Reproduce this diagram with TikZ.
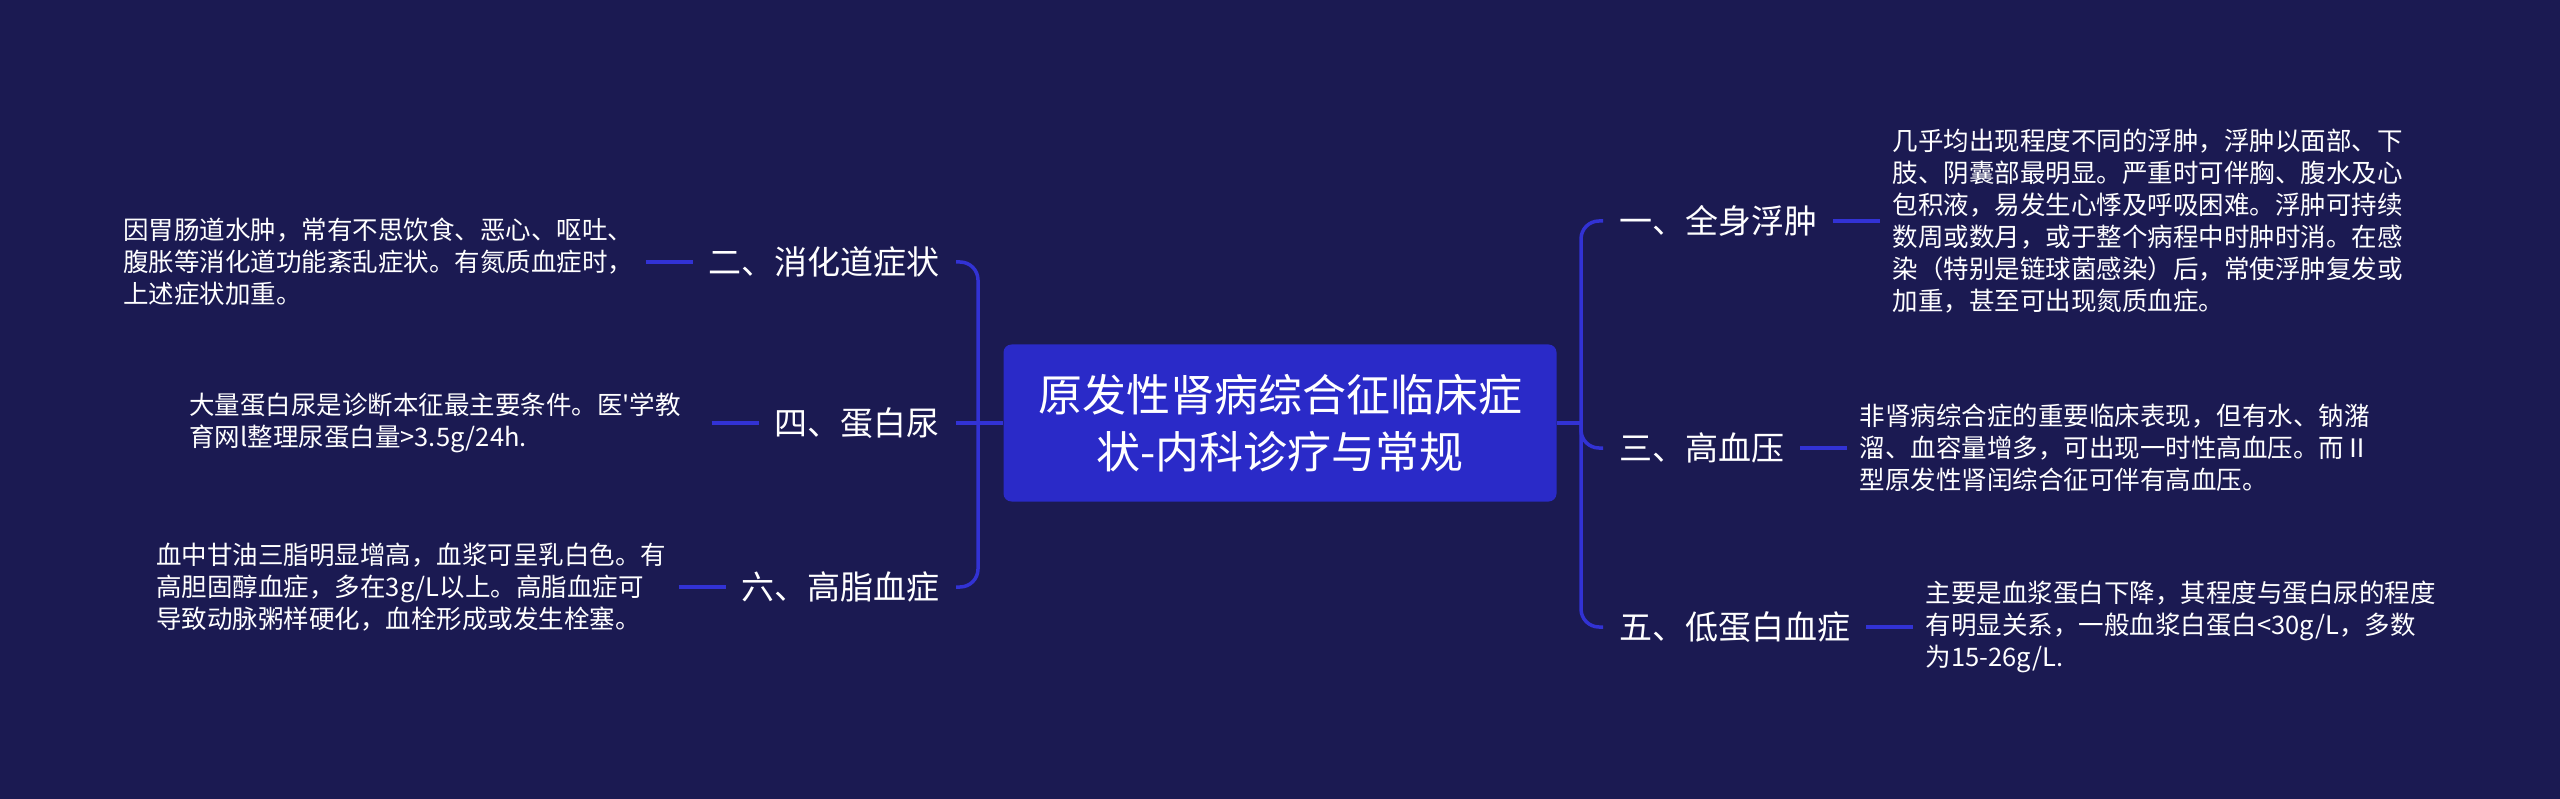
\documentclass[tikz,border=0pt]{standalone}
\usepackage{fontspec}
\newfontfamily\cjk{Noto Sans CJK SC}
\usetikzlibrary{positioning}

\definecolor{bgnavy}{RGB}{27,26,82}
\definecolor{hubblue}{RGB}{42,42,200}
\definecolor{linkblue}{RGB}{50,50,212}

\begin{document}
\begin{tikzpicture}[
  x=1pt, y=-1pt,
  hub/.style={fill=hubblue, rounded corners=8pt, minimum width=553pt, minimum height=157pt,
              align=center, text=white, font={\cjk\fontsize{44pt}{57pt}\selectfont}},
  topic/.style={text=white, inner xsep=16pt, inner ysep=4pt,
                font={\cjk\fontsize{33pt}{40pt}\selectfont}},
  note/.style={text=white, text width=510pt, align=left, inner xsep=12pt,
               font={\cjk\fontsize{25.5pt}{32pt}\selectfont}},
  link/.style={draw=linkblue, line width=3.5pt, rounded corners=18pt}
]
  \useasboundingbox (0,0) rectangle (2560,799);
  \fill[bgnavy] (0,0) rectangle (2560,799);

  \node[hub] (hub) at (1280,423) {原发性肾病综合征临床症\\状-内科诊疗与常规};

  % right side
  \node[topic, anchor=west] (l1) at (1603,221) {一、全身浮肿};
  \node[topic, anchor=west] (l3) at (1603,448) {三、高血压};
  \node[topic, anchor=west] (l5) at (1603,627) {五、低蛋白血症};

  \node[note, right=47pt of l1] (d1) {几乎均出现程度不同的浮肿，浮肿以面部、下\\
    肢、阴囊部最明显。严重时可伴胸、腹水及心\\
    包积液，易发生心悸及呼吸困难。浮肿可持续\\
    数周或数月，或于整个病程中时肿时消。在感\\
    染（特别是链球菌感染）后，常使浮肿复发或\\
    加重，甚至可出现氮质血症。};
  \node[note, right=47pt of l3] (d3) {非肾病综合症的重要临床表现，但有水、钠潴\\
    溜、血容量增多，可出现一时性高血压。而Ⅱ\\
    型原发性肾闰综合征可伴有高血压。};
  \node[note, right=47pt of l5] (d5) {主要是血浆蛋白下降，其程度与蛋白尿的程度\\
    有明显关系，一般血浆白蛋白<30g/L，多数\\
    为15-26g/L.};

  % left side
  \node[topic, anchor=east] (l2) at (956,262) {二、消化道症状};
  \node[topic, anchor=east] (l4) at (956,423) {四、蛋白尿};
  \node[topic, anchor=east] (l6) at (956,587) {六、高脂血症};

  \node[note, left=47pt of l2] (d2) {因胃肠道水肿，常有不思饮食、恶心、呕吐、\\
    腹胀等消化道功能紊乱症状。有氮质血症时，\\
    上述症状加重。};
  \node[note, left=47pt of l4] (d4) {大量蛋白尿是诊断本征最主要条件。医'学教\\
    育网l整理尿蛋白量>3.5g/24h.};
  \node[note, left=47pt of l6] (d6) {血中甘油三脂明显增高，血浆可呈乳白色。有\\
    高胆固醇血症，多在3g/L以上。高脂血症可\\
    导致动脉粥样硬化，血栓形成或发生栓塞。};

  % connectors
  \coordinate (lj) at (978,423);
  \coordinate (rj) at (1581,423);
  \draw[link] (hub.east) -- (rj);
  \draw[link] (hub.west) -- (l4.east);
  \foreach \n in {1,3,5} {
    \draw[link] (rj) |- (l\n.west);
    \draw[link] (l\n.east) -- (d\n.west);
  }
  \foreach \n in {2,6}
    \draw[link] (lj) |- (l\n.east);
  \foreach \n in {2,4,6}
    \draw[link] (d\n.east) -- (l\n.west);
\end{tikzpicture}
\end{document}
